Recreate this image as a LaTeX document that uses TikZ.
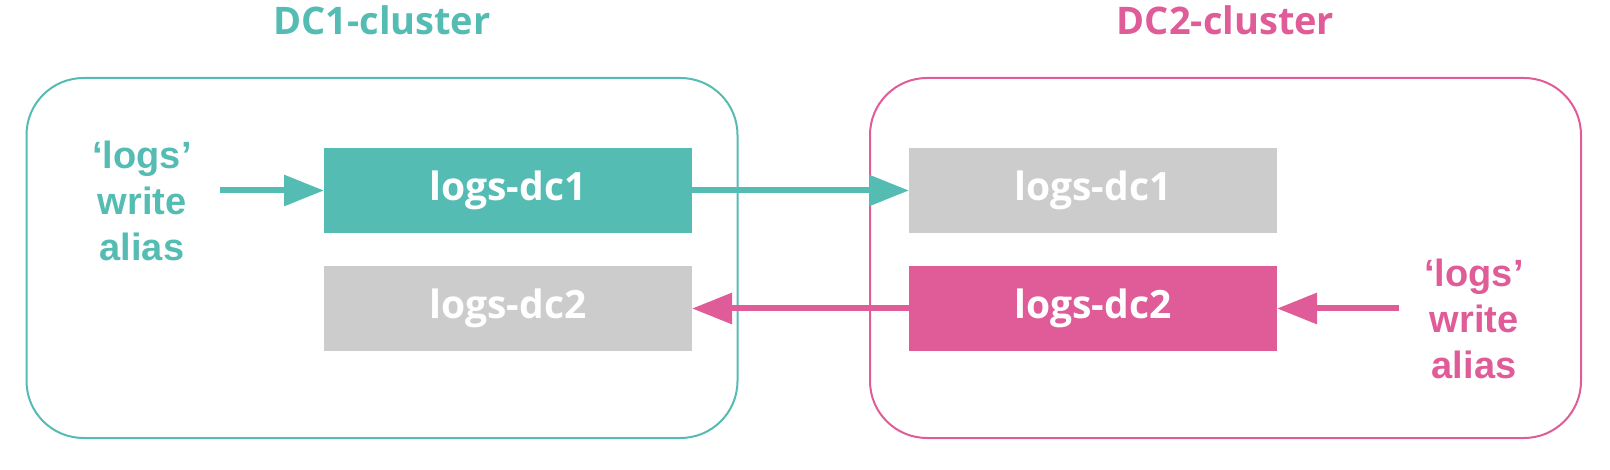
\documentclass[tikz,border=0pt]{standalone}
\usepackage{fontspec}
\setmainfont{Open Sans}
\newfontfamily\aliasfont{Liberation Sans}
\usetikzlibrary{arrows.meta,positioning}
\definecolor{dcteal}{HTML}{55BCB3}
\definecolor{dcpink}{HTML}{E05C98}
\definecolor{dcgray}{HTML}{CCCCCC}

\begin{document}
\begin{tikzpicture}[x=1pt,y=-1pt,>={Triangle[length=40pt,width=30pt]},on grid,
    cluster/.style={draw,line width=2pt,rounded corners=57pt,minimum width=711pt,minimum height=360pt},
    idx/.style={minimum width=368pt,minimum height=85pt,inner sep=0pt,outer sep=0pt,text=white,font=\fontsize{39}{46}\selectfont\bfseries},
    title/.style={font=\fontsize{38}{46}\selectfont\bfseries},
    alias/.style={align=center,font=\aliasfont\fontsize{38}{46}\selectfont\bfseries},
    flow/.style={->,line width=6pt}]
    \useasboundingbox (0,0) rectangle (1610,470);

    \node[cluster,dcteal] (dc1) at (382,258) {};
    \node[cluster,dcpink] (dc2) at (1225.5,258) {};
    \node[title,dcteal] (t1) [above=39pt of dc1.north] {DC1-cluster};
    \node[title,dcpink] (t2) [above=39pt of dc2.north] {DC2-cluster};

    \node[idx,fill=dcteal] (a1) at (508,190.5) {logs-dc1};
    \node[idx,fill=dcgray] (a2) [below=118pt of a1] {logs-dc2};
    \node[idx,fill=dcgray] (b1) [right=585pt of a1] {logs-dc1};
    \node[idx,fill=dcpink] (b2) [right=585pt of a2] {logs-dc2};

    \node[alias,dcteal] (w1) at (142,201) {‘logs’\\write\\alias};
    \node[alias,dcpink] (w2) at (1474,319) {‘logs’\\write\\alias};
    \coordinate (s1) at (220,190.5);
    \coordinate (s2) at (1399,308.5);

    \draw[flow,dcteal] (s1) -- (a1);
    \draw[flow,dcteal] (a1) -- (b1);
    \draw[flow,dcpink] (s2) -- (b2);
    \draw[flow,dcpink] (b2) -- (a2);
\end{tikzpicture}
\end{document}
